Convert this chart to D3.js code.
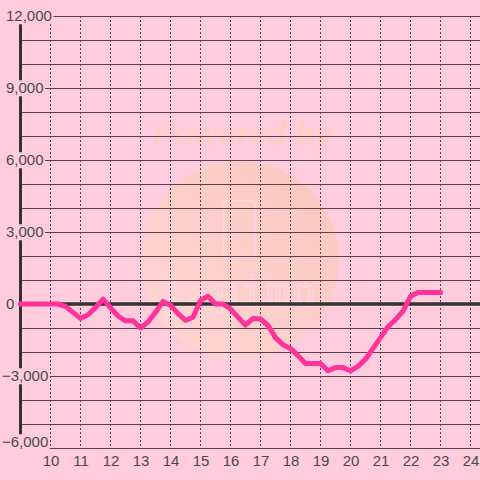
<!DOCTYPE html>
<html lang="en">
  <head>
    <meta charset="utf-8">
    <title>Chart</title>
    <script src="https://d3js.org/d3.v7.min.js" charset="utf-8"></script>
    <style>
      body { margin: 0; background: #ffccdd; }
      svg { display: block; }
    </style>
  </head>
  <body>
    <script>
      // hours (every 15 min) and value at each
      var hours = d3.range(9, 23.01, 0.25);
      var values = [
        0, 0, 0, 0,            // 9
        0, 0, -100, -350,      // 10
        -600, -450, -150, 200, // 11
        -150, -500, -700, -700, // 12
        -1000, -750, -350, 100, // 13
        -50, -400, -680, -550,  // 14
        150, 320, 0, 0,         // 15
        -200, -550, -880, -600, // 16
        -620, -900, -1400, -1700, // 17
        -1850, -2150, -2480, -2480, // 18
        -2480, -2780, -2650, -2650, // 19
        -2780, -2600, -2300, -1850, // 20
        -1400, -950, -650, -300,    // 21
        320, 480, 480, 480,         // 22
        480                         // 23
      ];
      var xTicks = [10, 11, 12, 13, 14, 15, 16, 17, 18, 19, 20, 21, 22, 23, 24];
      var yGrid = d3.range(-6000, 12001, 1000);
      var yLabels = [12000, 9000, 6000, 3000, 0, -3000, -6000];

      var width = 480,
      height = 480;

      var x = d3.scaleLinear().domain([9, 24]).range([20.5, 470.5]);
      var y = d3.scaleLinear().domain([-6000, 12000]).range([448, 16]);

      var svg = d3.select("body").append("svg")
        .attr("width", width)
        .attr("height", height);

      svg.append("rect")
        .attr("width", width)
        .attr("height", height)
        .attr("fill", "#ffccdd");

      // faint watermark
      var defs = svg.append("defs");
      var grad = defs.append("linearGradient")
        .attr("id", "wm")
        .attr("x1", "0").attr("y1", "1")
        .attr("x2", "1").attr("y2", "0");
      grad.append("stop").attr("offset", "0").attr("stop-color", "#ffd6d4");
      grad.append("stop").attr("offset", "1").attr("stop-color", "#fbc7bf");

      var wm = svg.append("g").attr("class", "watermark");
      wm.append("circle")
        .attr("cx", 240).attr("cy", 260).attr("r", 99)
        .attr("fill", "url(#wm)");
      wm.append("text")
        .attr("x", 243).attr("y", 145)
        .attr("text-anchor", "middle")
        .style("font-family", "'Liberation Sans', Arial, sans-serif")
        .style("font-size", "32px")
        .style("font-weight", "bold")
        .style("font-style", "italic")
        .attr("fill", "#fdcdc6")
        .text("Powered by");
      wm.append("rect")
        .attr("x", 224).attr("y", 201).attr("width", 31).attr("height", 56)
        .attr("rx", 3)
        .attr("fill", "none")
        .attr("stroke", "#ffd3e0")
        .attr("stroke-width", 2);
      wm.append("text")
        .attr("x", 240).attr("y", 306)
        .attr("text-anchor", "middle")
        .style("font-family", "'DejaVu Sans Mono', monospace")
        .style("font-size", "40px")
        .style("letter-spacing", "2px")
        .attr("fill", "none")
        .attr("stroke", "#ffd6e2")
        .attr("stroke-width", 1.5)
        .text("papimo");

      // horizontal grid
      svg.append("g")
        .selectAll("line")
        .data(yGrid)
        .enter().append("line")
        .attr("x1", 20).attr("x2", width)
        .attr("y1", function(d) { return y(d) + 0.5; })
        .attr("y2", function(d) { return y(d) + 0.5; })
        .attr("stroke", "#5a3f4d")
        .attr("stroke-width", 1);

      // vertical dotted grid
      svg.append("g")
        .selectAll("line")
        .data(xTicks)
        .enter().append("line")
        .attr("x1", function(d) { return x(d); })
        .attr("x2", function(d) { return x(d); })
        .attr("y1", y(12000)).attr("y2", y(-6000))
        .attr("stroke", "#5a3f4d")
        .attr("stroke-width", 1)
        .attr("stroke-dasharray", "2,2");

      // zero line
      svg.append("line")
        .attr("x1", 20).attr("x2", width)
        .attr("y1", y(0)).attr("y2", y(0))
        .attr("stroke", "#333")
        .attr("stroke-width", 3.5);

      // y axis
      svg.append("line")
        .attr("x1", 20.5).attr("x2", 20.5)
        .attr("y1", y(12000)).attr("y2", y(-6000))
        .attr("stroke", "#333")
        .attr("stroke-width", 3);

      // data line
      var line = d3.line()
        .x(function(d, i) { return x(hours[i]); })
        .y(function(d) { return y(d); });

      svg.append("path")
        .datum(values)
        .attr("d", line)
        .attr("fill", "none")
        .attr("stroke", "#ff3399")
        .attr("stroke-width", 5)
        .attr("stroke-linejoin", "round")
        .attr("stroke-linecap", "round");

      // y labels with background boxes
      var yl = svg.append("g")
        .selectAll("g")
        .data(yLabels)
        .enter().append("g");

      yl.append("rect").attr("fill", "#ffccdd");
      yl.append("text")
        .attr("x", function(d) { return d < 0 ? 2 : 6; })
        .attr("y", function(d) { return Math.min(y(d), 442); })
        .attr("dy", "0.35em")
        .style("font-family", "'Liberation Sans', Arial, sans-serif")
        .style("font-size", "15px")
        .attr("fill", "#4a4a4a")
        .text(function(d) { return d3.format(",")(d); });

      yl.each(function() {
        var g = d3.select(this);
        var b = g.select("text").node().getBBox();
        g.select("rect")
          .attr("x", b.x - 1.5)
          .attr("y", b.y + 1)
          .attr("width", b.width + 3)
          .attr("height", b.height - 1);
      });

      // x labels
      svg.append("g")
        .selectAll("text")
        .data(xTicks)
        .enter().append("text")
        .attr("x", function(d) { return x(d) + 0.5; })
        .attr("y", 466)
        .attr("text-anchor", "middle")
        .style("font-family", "'Liberation Sans', Arial, sans-serif")
        .style("font-size", "15px")
        .attr("fill", "#4a4a4a")
        .text(function(d) { return d; });
    </script>
  </body>
</html>
